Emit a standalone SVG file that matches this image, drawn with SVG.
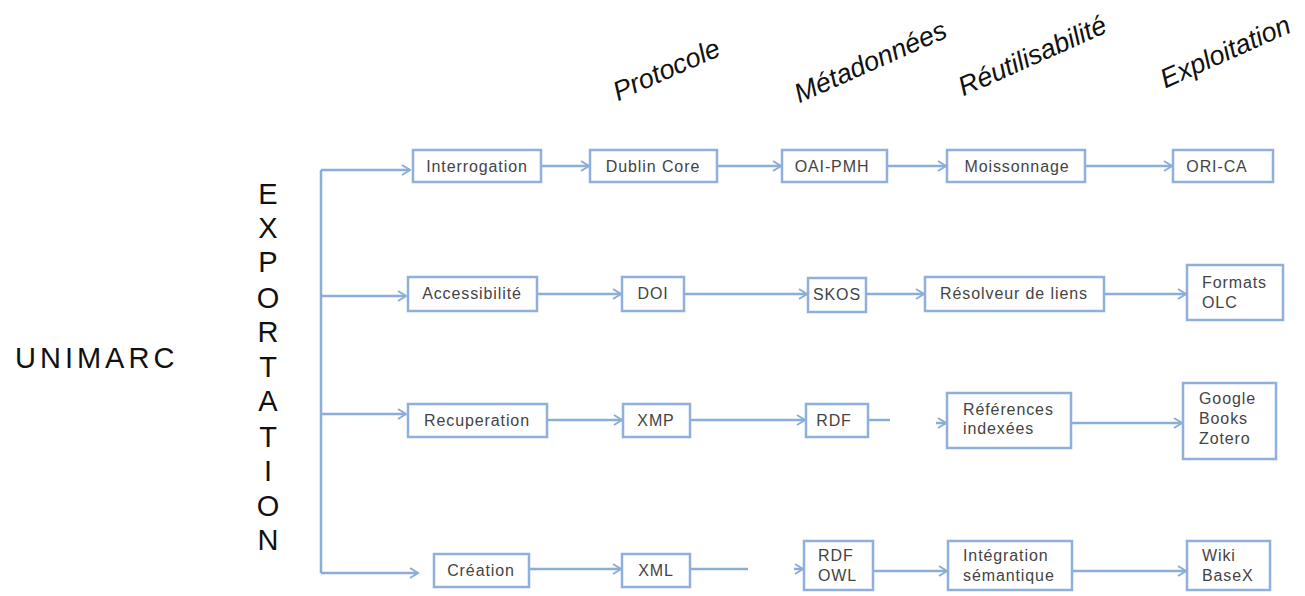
<svg xmlns="http://www.w3.org/2000/svg" width="1305" height="596" viewBox="0 0 1305 596">
<defs>
<marker id="ah" markerWidth="12" markerHeight="12" refX="10" refY="6" orient="auto" markerUnits="userSpaceOnUse">
<path d="M2,1 L10,6 L2,11" fill="none" stroke="#8aaed8" stroke-width="2"/>
</marker>
<style>
.box{fill:#fff;stroke:#8eb0da;stroke-width:2.5}
.t{font-family:"Liberation Sans",Arial,sans-serif;font-size:16px;fill:#444;letter-spacing:0.9px}
.c{fill:none;stroke:#8aaed8;stroke-width:2.5}
.h{font-family:"Liberation Sans",Arial,sans-serif;font-size:27px;font-style:italic;fill:#111}
.big{font-family:"Liberation Sans",Arial,sans-serif;font-size:29px;fill:#111}
</style>
</defs>
<rect width="1305" height="596" fill="#fff"/>

<g id="headers">
<text class="h" transform="translate(670,78) rotate(-24)" text-anchor="middle">Protocole</text>
<text class="h" transform="translate(874,70) rotate(-24)" text-anchor="middle">Métadonnées</text>
<text class="h" transform="translate(1036,64) rotate(-24)" text-anchor="middle">Réutilisabilité</text>
<text class="h" transform="translate(1229,60) rotate(-24)" text-anchor="middle">Exploitation</text>
</g>

<g id="unimarc"><text class="big" x="15" y="368" style="letter-spacing:4px">UNIMARC</text></g>

<g id="exportation">
<text class="big" text-anchor="middle" x="268" y="204">E</text>
<text class="big" text-anchor="middle" x="268" y="238">X</text>
<text class="big" text-anchor="middle" x="268" y="272">P</text>
<text class="big" text-anchor="middle" x="268" y="308">O</text>
<text class="big" text-anchor="middle" x="268" y="342">R</text>
<text class="big" text-anchor="middle" x="268" y="377">T</text>
<text class="big" text-anchor="middle" x="268" y="411">A</text>
<text class="big" text-anchor="middle" x="268" y="447">T</text>
<text class="big" text-anchor="middle" x="268" y="481">I</text>
<text class="big" text-anchor="middle" x="268" y="516">O</text>
<text class="big" text-anchor="middle" x="268" y="550">N</text>
</g>

<g id="connectors">
<path class="c" d="M321,170 V573"/>
<path class="c" d="M321,170 H410" marker-end="url(#ah)"/>
<path class="c" d="M321,296 H406" marker-end="url(#ah)"/>
<path class="c" d="M321,414 H406" marker-end="url(#ah)"/>
<path class="c" d="M321,573 H418" marker-end="url(#ah)"/>

<path class="c" d="M541,166 H589" marker-end="url(#ah)"/>
<path class="c" d="M717,166 H781" marker-end="url(#ah)"/>
<path class="c" d="M887,166 H946" marker-end="url(#ah)"/>
<path class="c" d="M1085,166 H1172" marker-end="url(#ah)"/>

<path class="c" d="M537,294 H621" marker-end="url(#ah)"/>
<path class="c" d="M684,294 H807" marker-end="url(#ah)"/>
<path class="c" d="M866,294 H924" marker-end="url(#ah)"/>
<path class="c" d="M1104,294 H1186" marker-end="url(#ah)"/>

<path class="c" d="M547,420 H622" marker-end="url(#ah)"/>
<path class="c" d="M690,420 H805" marker-end="url(#ah)"/>
<path class="c" d="M868,420 H890"/>
<path class="c" d="M936,423 H946" marker-end="url(#ah)"/>
<path class="c" d="M1071,423 H1182" marker-end="url(#ah)"/>

<path class="c" d="M529,569 H621" marker-end="url(#ah)"/>
<path class="c" d="M690,569 H748"/>
<path class="c" d="M794,569 H803" marker-end="url(#ah)"/>
<path class="c" d="M873,571 H947" marker-end="url(#ah)"/>
<path class="c" d="M1072,571 H1186" marker-end="url(#ah)"/>
</g>

<g id="interrogation"><rect class="box" x="413" y="150" width="128" height="32"/><text class="t" x="477" y="172" text-anchor="middle">Interrogation</text></g>
<g id="dublincore"><rect class="box" x="590" y="150" width="127" height="32"/><text class="t" x="653" y="172" text-anchor="middle">Dublin Core</text></g>
<g id="oaipmh"><rect class="box" x="782" y="150" width="105" height="32"/><text class="t" x="832" y="172" text-anchor="middle">OAI-PMH</text></g>
<g id="moissonnage"><rect class="box" x="947" y="150" width="138" height="32"/><text class="t" x="1017" y="172" text-anchor="middle">Moissonnage</text></g>
<g id="orica"><rect class="box" x="1173" y="150" width="100" height="32"/><text class="t" x="1217" y="172" text-anchor="middle">ORI-CA</text></g>

<g id="accessibilite"><rect class="box" x="408" y="277" width="129" height="34"/><text class="t" x="472" y="299" text-anchor="middle">Accessibilité</text></g>
<g id="doi"><rect class="box" x="622" y="277" width="62" height="34"/><text class="t" x="653" y="299" text-anchor="middle">DOI</text></g>
<g id="skos"><rect class="box" x="808" y="278" width="58" height="34"/><text class="t" x="837" y="300" text-anchor="middle">SKOS</text></g>
<g id="resolveur"><rect class="box" x="925" y="277" width="179" height="34"/><text class="t" x="1014" y="299" text-anchor="middle">Résolveur de liens</text></g>
<g id="formats"><rect class="box" x="1187" y="265" width="96" height="55"/><text class="t" x="1202" y="288">Formats</text><text class="t" x="1202" y="308">OLC</text></g>

<g id="recuperation"><rect class="box" x="408" y="404" width="139" height="33"/><text class="t" x="477" y="426" text-anchor="middle">Recuperation</text></g>
<g id="xmp"><rect class="box" x="623" y="404" width="67" height="33"/><text class="t" x="656" y="426" text-anchor="middle">XMP</text></g>
<g id="rdf"><rect class="box" x="806" y="404" width="62" height="33"/><text class="t" x="834" y="426" text-anchor="middle">RDF</text></g>
<g id="references"><rect class="box" x="947" y="393" width="124" height="55"/><text class="t" x="963" y="415">Références</text><text class="t" x="963" y="434">indexées</text></g>
<g id="google"><rect class="box" x="1183" y="383" width="93" height="76"/><text class="t" x="1199" y="404">Google</text><text class="t" x="1199" y="424">Books</text><text class="t" x="1199" y="444">Zotero</text></g>

<g id="creation"><rect class="box" x="434" y="554" width="95" height="33"/><text class="t" x="481" y="576" text-anchor="middle">Création</text></g>
<g id="xml"><rect class="box" x="622" y="554" width="68" height="33"/><text class="t" x="656" y="576" text-anchor="middle">XML</text></g>
<g id="rdfowl"><rect class="box" x="804" y="541" width="69" height="49"/><text class="t" x="818" y="561">RDF</text><text class="t" x="818" y="581">OWL</text></g>
<g id="integration"><rect class="box" x="948" y="541" width="124" height="49"/><text class="t" x="963" y="561">Intégration</text><text class="t" x="963" y="581">sémantique</text></g>
<g id="wiki"><rect class="box" x="1187" y="541" width="83" height="49"/><text class="t" x="1202" y="561">Wiki</text><text class="t" x="1202" y="581">BaseX</text></g>
</svg>
